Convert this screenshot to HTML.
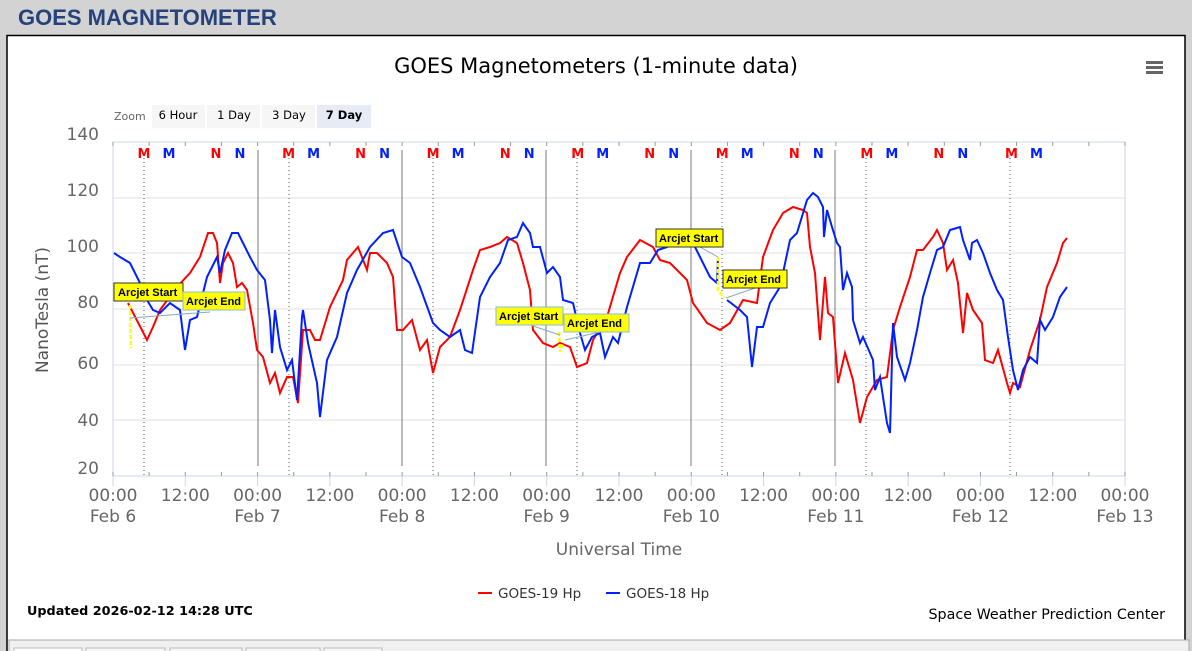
<!DOCTYPE html>
<html><head><meta charset="utf-8"><style>
body{margin:0;width:1192px;height:651px;background:#d3d3d3;overflow:hidden;font-family:"Liberation Sans",sans-serif;}
svg text{font-family:"DejaVu Sans",sans-serif;}
svg .lib text{font-family:"Liberation Sans",sans-serif;}
</style></head><body>
<svg width="1192" height="651" xmlns="http://www.w3.org/2000/svg" style="position:absolute;left:0;top:0">
<text x="18" y="25" style="font-family:'Liberation Sans',sans-serif" font-weight="bold" font-size="22" fill="#25427a">GOES MAGNETOMETER</text>
<rect x="7" y="35.5" width="1178" height="620" fill="#fff" stroke="#000" stroke-width="1.5"/>
<rect x="9" y="640" width="1180" height="20" fill="#f0f0f0" stroke="#aaa"/>
<g fill="#f6f6f6" stroke="#bbb">
<rect x="14" y="648" width="68" height="10" fill="#fff"/><rect x="86" y="648" width="79" height="10"/><rect x="170" y="648" width="72" height="10"/><rect x="246" y="648" width="74" height="10"/><rect x="324" y="648" width="58" height="10"/></g>
<text x="596" y="73" text-anchor="middle" font-size="21" fill="#000">GOES Magnetometers (1-minute data)</text>
<g fill="#666"><rect x="1146" y="61" width="17" height="3"/><rect x="1146" y="66" width="17" height="3"/><rect x="1146" y="71" width="17" height="3"/></g>
<text x="114" y="120" font-size="11" fill="#666">Zoom</text>
<rect x="152" y="105" width="53" height="23" fill="#f6f6f6"/><text x="178" y="119" text-anchor="middle" font-size="11.5">6 Hour</text>
<rect x="207" y="105" width="53" height="23" fill="#f6f6f6"/><text x="234" y="119" text-anchor="middle" font-size="11.5">1 Day</text>
<rect x="262" y="105" width="53" height="23" fill="#f6f6f6"/><text x="289" y="119" text-anchor="middle" font-size="11.5">3 Day</text>
<rect x="317" y="105" width="54" height="23" fill="#e6ebf5"/><text x="344" y="119" text-anchor="middle" font-size="11.5" font-weight="bold">7 Day</text>
<g stroke="#e2e2e2" stroke-width="1">
<line x1="113" x2="1125" y1="198" y2="198"/><line x1="113" x2="1125" y1="253" y2="253"/><line x1="113" x2="1125" y1="309" y2="309"/><line x1="113" x2="1125" y1="365" y2="365"/><line x1="113" x2="1125" y1="420" y2="420"/></g>
<rect x="113" y="142" width="1012" height="334" fill="none" stroke="#ccd6eb"/>
<g fill="#666" font-size="17" text-anchor="end">
<text x="99" y="140">140</text><text x="99" y="196">120</text><text x="99" y="252">100</text><text x="99" y="308">80</text><text x="99" y="369">60</text><text x="99" y="426">40</text><text x="99" y="474">20</text></g>
<text transform="translate(48,310) rotate(-90)" text-anchor="middle" font-size="17" fill="#555">NanoTesla (nT)</text>
<g stroke="#777"><line x1="258" x2="258" y1="150" y2="466"/><line x1="402" x2="402" y1="150" y2="466"/><line x1="546" x2="546" y1="150" y2="466"/><line x1="691" x2="691" y1="150" y2="466"/><line x1="835" x2="835" y1="150" y2="466"/></g>
<g stroke="#555" stroke-dasharray="1,3"><line x1="144" x2="144" y1="158" y2="476"/><line x1="289" x2="289" y1="158" y2="476"/><line x1="433" x2="433" y1="158" y2="476"/><line x1="577" x2="577" y1="158" y2="476"/><line x1="722" x2="722" y1="158" y2="476"/><line x1="866" x2="866" y1="158" y2="476"/><line x1="1010" x2="1010" y1="158" y2="476"/></g>
<g id="ticks" stroke="#999"></g>
<g font-size="13" font-weight="bold" text-anchor="middle" id="mn"></g>
<polyline fill="none" stroke="#f00" stroke-width="2" points="128,303 147,340 153,327 160,310 177,287 190,273 200,257 208,233 213,233 217,243 220,283 223,263 228,253 233,263 237,287 242,283 247,290 253,323 257,350 263,357 270,383 275,373 280,393 287,377 293,377 298,403 303,330 310,330 315,340 320,340 330,307 343,280 347,260 358,247 367,270 370,253 377,253 387,263 393,277 397,330 403,330 412,320 420,350 427,340 433,373 440,347 450,337 460,310 473,270 480,250 490,247 500,243 507,237 517,243 523,263 530,290 533,330 543,343 553,347 560,343 570,347 577,367 587,363 593,340 607,317 620,273 627,257 640,240 653,247 660,260 670,263 687,280 693,303 707,323 720,330 730,323 743,300 757,303 763,257 773,230 783,213 793,207 803,210 807,213 810,247 815,273 820,340 825,277 828,313 833,317 838,383 845,353 853,380 860,423 867,397 877,380 887,377 893,330 900,307 910,277 917,250 923,250 933,237 937,230 943,243 947,270 953,260 958,283 963,333 967,293 973,310 982,323 985,360 993,363 998,350 1007,383 1010,393 1013,383 1020,387 1030,350 1040,320 1047,287 1057,263 1063,243 1067,238"/>
<polyline fill="none" stroke="#0020ff" stroke-width="2" points="114,253 120,257 130,263 140,283 147,300 153,310 160,313 170,303 180,310 185,350 190,320 197,317 207,277 217,257 220,273 225,250 232,233 238,233 243,243 250,257 257,270 265,280 270,320 272,353 275,310 280,347 287,370 292,360 297,400 302,317 303,310 308,343 317,383 320,417 327,360 337,337 347,293 357,270 370,247 383,233 393,230 402,257 410,263 420,287 433,323 440,330 450,337 460,330 465,350 472,353 480,297 490,277 500,263 508,240 517,237 523,223 530,233 533,247 540,247 547,273 553,267 560,277 563,300 573,303 580,333 585,350 592,337 600,333 605,357 613,337 618,343 627,307 640,263 650,263 658,250 667,247 677,243 693,243 700,257 710,277 717,283 718,257"/>
<polyline fill="none" stroke="#0020ff" stroke-width="2" points="727,300 740,310 747,317 752,367 757,327 763,327 770,303 780,287 790,240 797,233 807,200 813,193 818,197 823,207 824,237 827,210 832,227 837,243 840,247 843,290 847,273 852,287 853,320 860,343 863,337 870,353 873,360 875,390 880,377 883,397 887,423 890,433 893,323 897,357 905,380 910,363 917,330 923,297 930,273 937,250 943,247 950,230 960,227 963,240 970,260 972,243 977,240 983,253 990,273 997,290 1003,300 1008,337 1013,370 1018,390 1023,370 1030,357 1037,363 1040,320 1045,330 1053,317 1060,297 1067,287"/>
<g stroke="#ff0" stroke-width="2.5" stroke-dasharray="4,2" fill="none"><polyline points="130,305 131,348"/><polyline points="559,332 560,352 563,343"/><polyline points="718,257 718,290 724,298"/></g>
<g stroke="#8ab" stroke-width="1"><line x1="150" y1="300" x2="170" y2="300"/><line x1="130" y1="318" x2="210" y2="312"/><line x1="530" y1="325" x2="560" y2="335"/><line x1="565" y1="340" x2="600" y2="332"/><line x1="700" y1="247" x2="718" y2="257"/><line x1="726" y1="298" x2="755" y2="288"/></g>
<g class="lib" font-size="11" font-weight="bold">
<rect x="114" y="283" width="69" height="18" fill="#ff0" stroke="#333"/><text x="118" y="296">Arcjet Start</text>
<rect x="183" y="292" width="62" height="18" fill="#ff0" stroke="#8bd"/><text x="186" y="305">Arcjet End</text>
<rect x="496" y="307" width="67" height="18" fill="#ff0" stroke="#8bd"/><text x="499" y="320">Arcjet Start</text>
<rect x="564" y="314" width="65" height="18" fill="#ff0" stroke="#8bd"/><text x="567" y="327">Arcjet End</text>
<rect x="656" y="229" width="67" height="18" fill="#ff0" stroke="#333"/><text x="659" y="242">Arcjet Start</text>
<rect x="723" y="270" width="64" height="18" fill="#ff0" stroke="#333"/><text x="726" y="283">Arcjet End</text>
</g>
<g fill="#666" font-size="17" text-anchor="middle" id="xl"></g>
<text x="619" y="555" text-anchor="middle" font-size="17" fill="#666">Universal Time</text>
<line x1="478" x2="492" y1="593" y2="593" stroke="#f00" stroke-width="2"/>
<text x="498" y="598" font-size="13.5" fill="#333">GOES-19 Hp</text>
<line x1="606" x2="620" y1="593" y2="593" stroke="#0020ff" stroke-width="2"/>
<text x="626" y="598" font-size="13.5" fill="#333">GOES-18 Hp</text>
<text x="27" y="615" font-size="12.8" font-weight="bold">Updated 2026-02-12 14:28 UTC</text>
<text x="1165" y="619" text-anchor="end" font-size="14.3">Space Weather Prediction Center</text>
</svg>
<script>
var ns="http://www.w3.org/2000/svg";
function el(p,t,a,tx){var e=document.createElementNS(ns,t);for(var k in a)e.setAttribute(k,a[k]);if(tx)e.textContent=tx;document.getElementById(p).appendChild(e);}
var d=144.57;
for(var i=0;i<=28;i++){var x=113+i*d/4;el("ticks","line",{x1:x,x2:x,y1:142,y2:146});el("ticks","line",{x1:x,x2:x,y1:476,y2:472});}
for(var i=0;i<=14;i++){var x=113+i*d/2;el("ticks","line",{x1:x,x2:x,y1:476,y2:486,stroke:"#ccd6eb"});
el("xl","text",{x:x,y:501},i%2?"12:00":"00:00");if(i%2==0)el("xl","text",{x:x,y:522},"Feb "+(6+i/2));}
for(var k=0;k<7;k++){var b=113+k*d;el("mn","text",{x:b+31,y:158,fill:"#f00"},"M");el("mn","text",{x:b+56,y:158,fill:"#0020ff"},"M");
if(k<6){el("mn","text",{x:b+103,y:158,fill:"#f00"},"N");el("mn","text",{x:b+127,y:158,fill:"#0020ff"},"N");}}
</script>
</body></html>
